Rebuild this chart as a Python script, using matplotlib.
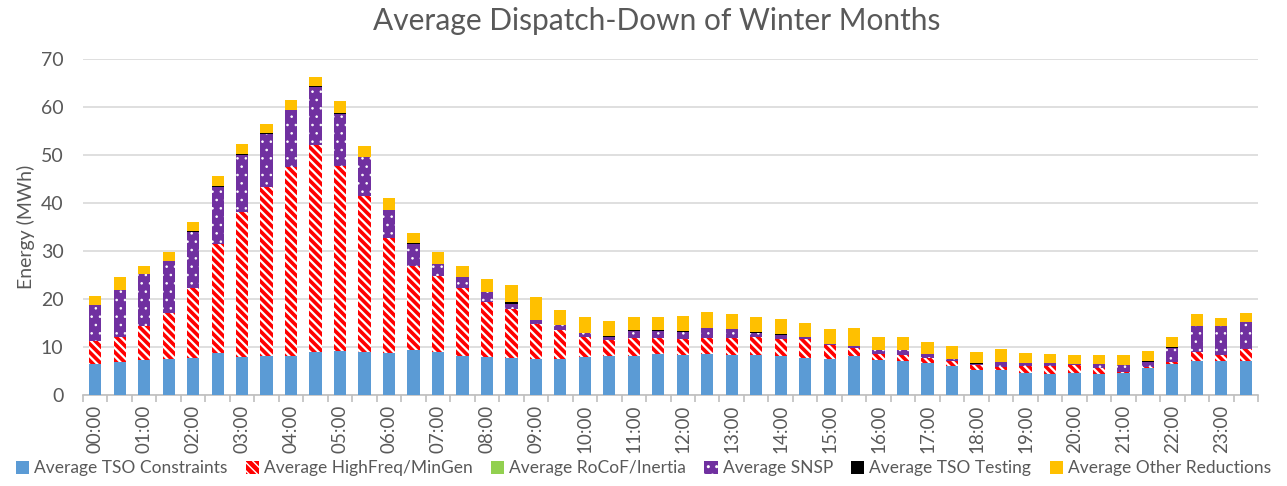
import numpy as np
import matplotlib.pyplot as plt

plt.rcParams['font.family'] = ['Lato', 'DejaVu Sans']

# ─── Data (MWh, half-hourly averages) ──────────────────────────────────
tso_constraints = [6.5, 6.8, 7.3, 7.5, 7.8, 8.7, 8.0, 8.2, 8.2, 8.9, 9.2, 8.9,
                   8.7, 9.4, 8.9, 8.2, 8.0, 7.7, 7.5, 7.5, 8.0, 8.2, 8.2, 8.5,
                   8.4, 8.5, 8.3, 8.3, 8.1, 7.8, 7.6, 8.1, 7.3, 7.1, 6.6, 6.1,
                   5.2, 5.2, 4.5, 4.3, 4.5, 4.3, 4.5, 5.7, 6.4, 7.1, 7.1, 7.1]
highfreq_mingen = [4.7, 5.3, 7.0, 9.5, 14.5, 22.7, 30.1, 35.1, 39.3, 43.1, 38.5, 32.6,
                   23.9, 17.5, 15.8, 14.1, 11.4, 10.3, 7.3, 6.1, 4.1, 3.2, 3.7, 3.4,
                   3.2, 3.3, 3.5, 3.7, 3.5, 3.8, 2.8, 1.8, 1.2, 1.3, 1.2, 0.9,
                   1.1, 0.7, 1.6, 1.8, 1.7, 1.4, 0.4, 0.2, 0.4, 1.8, 1.3, 2.4]
rocof_inertia = [0.0] * 48
snsp = [7.5, 9.8, 11.0, 10.9, 11.7, 11.9, 11.9, 11.0, 11.8, 12.1, 10.9, 8.0,
        5.9, 4.5, 2.5, 2.3, 2.0, 1.0, 0.8, 0.9, 0.9, 0.7, 1.4, 1.4,
        1.6, 2.1, 1.9, 1.0, 0.9, 0.6, 0.2, 0.4, 0.8, 0.9, 0.7, 0.6,
        0.1, 1.0, 0.5, 0.5, 0.2, 0.7, 1.4, 1.0, 3.0, 5.5, 6.0, 5.8]
tso_testing = [0.0, 0.0, 0.0, 0.0, 0.2, 0.2, 0.1, 0.3, 0.1, 0.2, 0.2, 0.1,
               0.1, 0.2, 0.0, 0.0, 0.1, 0.3, 0.0, 0.0, 0.0, 0.2, 0.2, 0.2,
               0.1, 0.0, 0.0, 0.2, 0.3, 0.0, 0.0, 0.0, 0.0, 0.0, 0.0, 0.0,
               0.2, 0.0, 0.0, 0.0, 0.0, 0.0, 0.0, 0.3, 0.3, 0.0, 0.0, 0.0]
other_reductions = [1.9, 2.6, 1.6, 1.9, 1.9, 2.1, 2.1, 1.8, 2.0, 2.0, 2.4, 2.3,
                    2.4, 2.2, 2.6, 2.3, 2.7, 3.7, 4.8, 3.2, 3.2, 3.2, 2.7, 2.7,
                    3.2, 3.3, 3.1, 3.1, 3.0, 2.9, 3.1, 3.6, 2.7, 2.7, 2.5, 2.6,
                    2.3, 2.7, 2.2, 1.9, 1.9, 1.9, 2.0, 2.0, 2.1, 2.5, 1.6, 1.8]
hour_labels = [f"{h:02d}:00" for h in range(24)]

# name, values, colour, hatch, hatch linewidth
series = [
    ("Average TSO Constraints", tso_constraints, "#5B9BD5", None, 1.0),
    ("Average HighFreq/MinGen", highfreq_mingen, "#FF0000", "\\\\\\\\", 1.6),
    ("Average RoCoF/Inertia", rocof_inertia, "#92D050", None, 1.0),
    ("Average SNSP", snsp, "#7030A0", "..", 0.6),
    ("Average TSO Testing", tso_testing, "#000000", None, 1.0),
    ("Average Other Reductions", other_reductions, "#FFC000", None, 1.0),
]

# ─── Plot ──────────────────────────────────────────────────────────────
fig = plt.figure(figsize=(12.87, 4.86), dpi=100)
ax = fig.add_axes([0.0645, 0.187, 0.913, 0.692])

x = np.arange(len(tso_constraints))
bottom = np.zeros(len(x))
for name, vals, col, hatch, hlw in series:
    vals = np.array(vals)
    with plt.rc_context({"hatch.linewidth": hlw}):
        if hatch:
            ax.bar(x, vals, 0.5, bottom=bottom, color=col, edgecolor="white",
                   linewidth=0, hatch=hatch, label=name, zorder=3)
        else:
            ax.bar(x, vals, 0.5, bottom=bottom, color=col, linewidth=0,
                   label=name, zorder=3)
    bottom += vals

gray = "#595959"
ax.set_xlim(-0.5, len(x) - 0.5)
ax.set_ylim(0, 70)
ax.set_yticks(range(0, 71, 10))
ax.set_xticks(x[::2])
ax.set_xticklabels(hour_labels, rotation=90, fontsize=13.5, color=gray)
ax.set_xticks(np.arange(-0.5, len(x), 1), minor=True)
ax.tick_params(axis="x", which="major", length=0, pad=7)
ax.tick_params(axis="x", which="minor", length=5, color="#BFBFBF", width=1.2)
ax.tick_params(axis="y", length=0, labelsize=14, labelcolor=gray, pad=14)
ax.grid(axis="y", color="#D9D9D9", linewidth=1.2, zorder=0)
for s in ["top", "right", "left"]:
    ax.spines[s].set_visible(False)
ax.spines["bottom"].set_color("#BFBFBF")
ax.spines["bottom"].set_linewidth(1.2)

ax.set_ylabel("Energy (MWh)", fontsize=14, color=gray, labelpad=4)
fig.suptitle("Average Dispatch-Down of Winter Months", fontsize=21.5, color=gray,
             x=0.51, y=0.985)

fig.legend(loc="lower center", ncol=6, bbox_to_anchor=(0.5, -0.012), frameon=False,
           fontsize=12.5, labelcolor=gray, handlelength=0.75, handleheight=0.75,
           handletextpad=0.3, columnspacing=1.05)

fig.savefig("out.png", dpi=100)
